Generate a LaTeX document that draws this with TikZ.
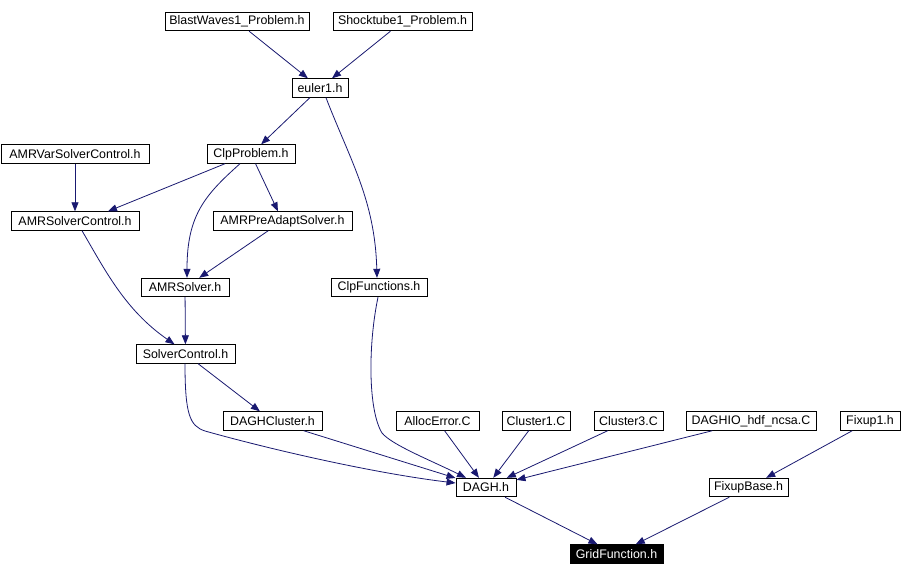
\documentclass[tikz,border=0pt]{standalone}
\usepackage{fontspec}
\setmainfont{Liberation Sans}
\usetikzlibrary{arrows.meta}
\definecolor{navyedge}{RGB}{25,25,112}

\begin{document}
\begin{tikzpicture}[x=1pt,y=-1pt]
\tikzset{
  filenode/.style={rectangle,draw=black,fill=white,line width=0.9pt,minimum height=18.5pt,inner sep=0pt,font=\fontsize{12.4}{14}\selectfont},
  focusnode/.style={filenode,fill=black,text=white},
  depedge/.style={draw=navyedge,line width=0.8pt,line join=round,-{Triangle[length=9pt,width=7pt]}}
}
\useasboundingbox (0,0) rectangle (908,576);
\node[filenode,minimum width=144pt] (n_blast) at (237,21.5) {BlastWaves1\_Problem.h};
\node[filenode,minimum width=139pt] (n_shock) at (402.5,21.5) {Shocktube1\_Problem.h};
\node[filenode,minimum width=56pt] (n_euler) at (320,88) {euler1.h};
\node[filenode,minimum width=148pt] (n_amrvar) at (75,154) {AMRVarSolverControl.h};
\node[filenode,minimum width=88pt] (n_clpprob) at (251,154) {ClpProblem.h};
\node[filenode,minimum width=128pt] (n_amrsolverctl) at (75,221) {AMRSolverControl.h};
\node[filenode,minimum width=139pt] (n_amrpre) at (282.5,221) {AMRPreAdaptSolver.h};
\node[filenode,minimum width=88pt] (n_amrsolver) at (185,287.5) {AMRSolver.h};
\node[filenode,minimum width=96pt] (n_clpfunc) at (379,287.5) {ClpFunctions.h};
\node[filenode,minimum width=99pt] (n_solverctl) at (185.5,354) {SolverControl.h};
\node[filenode,minimum width=99pt] (n_daghcluster) at (272.5,421) {DAGHCluster.h};
\node[filenode,minimum width=83pt] (n_allocerr) at (437.5,421) {AllocError.C};
\node[filenode,minimum width=68pt] (n_cluster1) at (536,421) {Cluster1.C};
\node[filenode,minimum width=69pt] (n_cluster3) at (628.5,421) {Cluster3.C};
\node[filenode,minimum width=130pt] (n_daghio) at (751,421) {DAGHIO\_hdf\_ncsa.C};
\node[filenode,minimum width=60pt] (n_fixup1) at (870,421) {Fixup1.h};
\node[filenode,minimum width=60pt] (n_dagh) at (486,487.5) {DAGH.h};
\node[filenode,minimum width=79pt] (n_fixupbase) at (748.5,487.5) {FixupBase.h};
\node[focusnode,minimum width=93pt] (n_gridfunc) at (616.5,554) {GridFunction.h};
\draw[depedge] (n_blast) -- (n_euler);
\draw[depedge] (n_shock) -- (n_euler);
\draw[depedge] (n_euler) -- (n_clpprob);
\draw[depedge] ([xshift=6pt]n_euler.south) .. controls (350,160) and (375,200) .. ([xshift=-2pt]n_clpfunc.north);
\draw[depedge] (n_amrvar) -- (n_amrsolverctl);
\draw[depedge] ([xshift=-26pt]n_clpprob.south) -- ([xshift=33pt]n_amrsolverctl.north);
\draw[depedge] (n_clpprob) -- (n_amrpre);
\draw[depedge] ([xshift=-11pt]n_clpprob.south) .. controls (205,195) and (187,215) .. ([xshift=2pt]n_amrsolver.north);
\draw[depedge] (n_amrpre) -- (n_amrsolver);
\draw[depedge] ([xshift=7pt]n_amrsolverctl.south) .. controls (105,270) and (125,310) .. ([xshift=-11pt]n_solverctl.north);
\draw[depedge] (n_amrsolver) -- (n_solverctl);
\draw[depedge] (n_solverctl) -- (n_daghcluster);
\draw[depedge] ([xshift=-0.5pt]n_solverctl.south) .. controls (185,415) and (190,426) .. (205,431) .. controls (280,452) and (380,474) .. ([yshift=4.5pt]n_dagh.west);
\draw[depedge] (n_daghcluster) -- (n_dagh);
\draw[depedge] ([xshift=-1pt]n_clpfunc.south) .. controls (368,345) and (368,410) .. (382,433) .. controls (392,445) and (430,460) .. ([xshift=-20pt]n_dagh.north);
\draw[depedge] (n_allocerr) -- (n_dagh);
\draw[depedge] (n_cluster1) -- (n_dagh);
\draw[depedge] (n_cluster3) -- (n_dagh);
\draw[depedge] (n_daghio) -- (n_dagh);
\draw[depedge] (n_fixup1) -- (n_fixupbase);
\draw[depedge] (n_dagh) -- (n_gridfunc);
\draw[depedge] (n_fixupbase) -- (n_gridfunc);
\end{tikzpicture}
\end{document}
